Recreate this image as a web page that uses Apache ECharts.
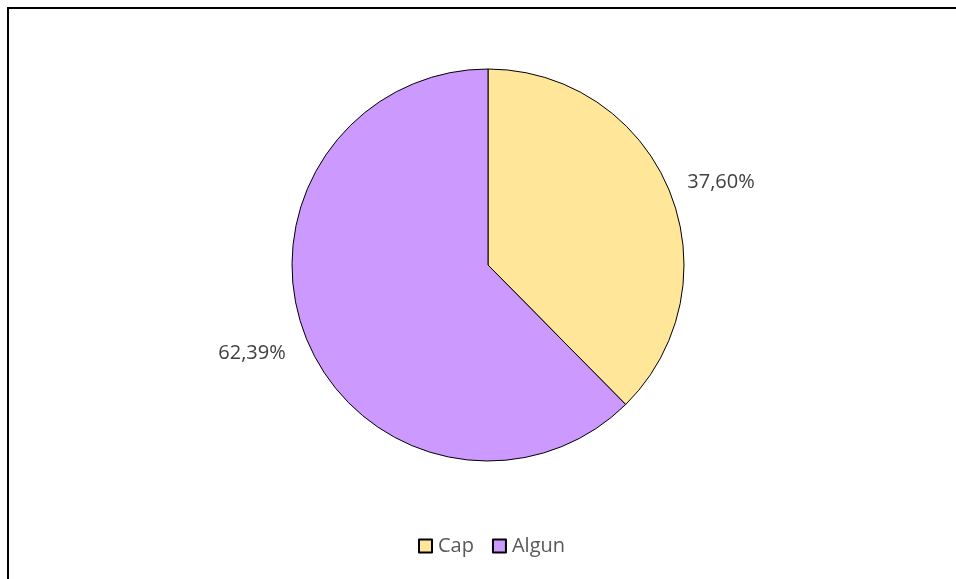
<!DOCTYPE html>
<html><head><meta charset="utf-8">
<script src="https://cdn.jsdelivr.net/npm/echarts@6/dist/echarts.min.js"></script>
<style>html,body{margin:0;padding:0;background:#fff}#c{width:956px;height:579px}</style>
</head><body><div id="c"></div>
<script>
const categories = ["Cap", "Algun"];
const values = [37.60, 62.39];
const labels = ["37,60%", "62,39%"];
const colors = ["#FFE699", "#CC99FF"];

const chart = echarts.init(document.getElementById('c'), null, {renderer: 'canvas'});
chart.setOption({
  animation: false,
  backgroundColor: '#ffffff',
  legend: {
    data: categories,
    left: 413,
    top: 531,
    icon: 'rect',
    itemWidth: 13,
    itemHeight: 13,
    itemGap: 18,
    textStyle: {fontFamily: 'Open Sans', fontSize: 20, color: '#595959', padding: [0, 0, 0, 1]}
  },
  graphic: [
    {type: 'line', shape: {x1: 7, y1: 8, x2: 956, y2: 8}, style: {stroke: '#000', lineWidth: 2}},
    {type: 'line', shape: {x1: 8, y1: 7, x2: 8, y2: 579}, style: {stroke: '#000', lineWidth: 2}}
  ],
  series: [{
    type: 'pie',
    center: [488, 265],
    radius: [0, 196],
    startAngle: 90,
    clockwise: true,
    data: categories.map((c, i) => ({name: c, value: values[i], itemStyle: {color: colors[i]}})),
    itemStyle: {borderColor: '#000', borderWidth: 1},
    label: {
      show: true,
      position: 'outside',
      formatter: p => labels[p.dataIndex],
      fontFamily: 'Open Sans',
      fontSize: 20,
      color: '#404040'
    },
    labelLine: {show: false, length: 14, length2: 0},
    labelLayout: p => (p.dataIndex === 0 ? {dy: -3} : {dx: -3, dy: 9}),
    emphasis: {disabled: true}
  }]
});
</script></body></html>
